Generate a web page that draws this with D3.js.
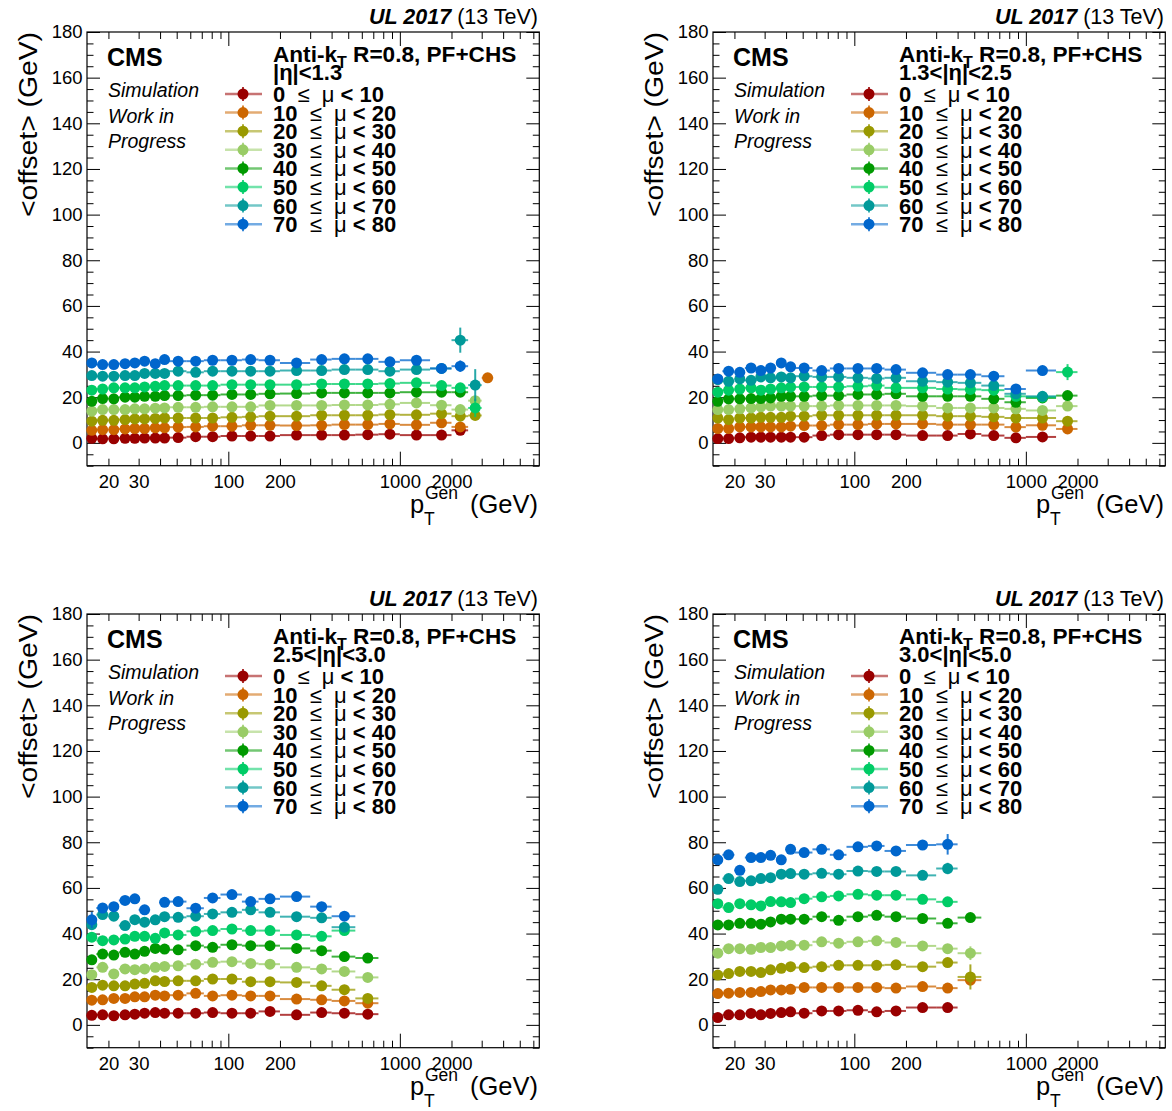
<!DOCTYPE html>
<html>
<head>
<meta charset="utf-8">
<script src="https://cdn.jsdelivr.net/npm/d3@7"></script>
<style>
  body { margin: 0; background: #fff; }
  svg text { font-family: "Liberation Sans", Arial, Helvetica, sans-serif; fill: #000; }
</style>
</head>
<body>
<svg id="chart" width="1172" height="1111"></svg>
<script>
// Generator-level jet pT bin edges (GeV); points sit at bin centres, x errors span the bin
const ptEdges = [15, 17, 20, 23, 27, 30, 35, 40, 45, 57, 72, 90, 120, 150, 200, 300, 400, 550, 750, 1000, 1500, 2000, 2500, 3000, 3500];

// Pileup (mu) intervals
const muLow  = [0, 10, 20, 30, 40, 50, 60, 70];
const muHigh = [10, 20, 30, 40, 50, 60, 70, 80];

// Pseudorapidity region of each panel
const etaLabels = ["|η|<1.3", "1.3<|η|<2.5", "2.5<|η|<3.0", "3.0<|η|<5.0"];

// <offset> (GeV) per pT bin, one row per mu interval (null = no entry)
const offsetEta0to13 = [
  [2.0, 1.8, 1.8, 2.0, 2.0, 2.1, 2.1, 2.1, 2.3, 2.7, 2.7, 3.0, 3.0, 3.0, 3.4, 3.4, 3.4, 3.6, 3.8, 3.4, 3.4, 5.5, null, null],
  [5.5, 5.8, 5.8, 6.1, 6.3, 6.3, 6.6, 6.6, 6.9, 7.0, 7.3, 7.3, 7.7, 7.7, 7.6, 7.7, 8.0, 8.0, 8.3, 7.9, 8.8, 7.0, null, 28.5],
  [9.5, 9.9, 9.9, 10.2, 10.5, 10.5, 10.7, 10.9, 10.9, 10.9, 10.9, 11.2, 11.4, 11.7, 11.7, 12.1, 12.1, 12.1, 12.4, 12.3, 12.8, 11.7, 12.0, null],
  [13.9, 14.6, 14.6, 14.6, 14.9, 14.9, 15.2, 15.3, 15.6, 15.6, 15.8, 15.8, 15.8, 16.4, 16.4, 16.4, 16.6, 16.6, 16.9, 17.5, 16.5, 14.6, 18.5, null],
  [18.2, 19.4, 19.3, 20.0, 20.0, 20.4, 20.4, 20.7, 20.7, 20.9, 20.9, 21.2, 21.2, 21.5, 21.6, 21.9, 21.9, 21.9, 21.9, 22.2, 22.2, 22.2, null, null],
  [23.1, 23.6, 24.1, 24.1, 24.1, 24.5, 24.8, 25.1, 25.1, 25.1, 25.1, 25.5, 25.5, 25.5, 25.5, 25.8, 25.8, 25.8, 26.0, 26.3, 25.1, 24.1, 15.3, null],
  [29.5, 29.2, 29.2, 29.5, 29.5, 30.4, 30.4, 30.4, 31.4, 30.9, 31.4, 31.4, 31.4, 31.4, 31.7, 31.7, 32.1, 32.1, 31.4, 32.1, 32.6, 45.0, 25.3, null],
  [35.0, 34.3, 34.3, 34.7, 35.0, 35.8, 34.7, 36.5, 35.8, 35.8, 36.2, 36.2, 36.5, 36.2, 35.0, 36.5, 36.8, 36.8, 35.5, 36.2, 32.6, 33.6, null, null]
];

const offsetEta13to25 = [
  [1.9, 1.9, 2.2, 2.5, 2.5, 2.5, 2.5, 2.5, 2.5, 3.2, 3.6, 3.6, 3.6, 3.6, 3.2, 3.2, 3.9, 3.2, 2.2, 2.6, null],
  [6.3, 6.3, 7.0, 7.0, 7.0, 7.0, 7.0, 7.3, 7.6, 7.6, 8.0, 8.0, 8.3, 8.3, 8.3, 8.0, 8.0, 8.0, 6.9, 7.7, 6.1],
  [10.9, 10.2, 10.9, 10.9, 11.2, 11.2, 11.2, 11.7, 11.7, 12.1, 12.1, 12.1, 12.1, 12.1, 12.1, 11.7, 11.7, 11.4, 10.9, 10.9, 9.5],
  [14.6, 14.6, 14.9, 15.3, 15.8, 16.1, 16.1, 16.1, 16.1, 16.1, 16.4, 16.4, 16.4, 16.4, 16.1, 15.3, 15.3, 15.3, 14.9, 14.2, 16.1],
  [18.2, 19.3, 19.3, 19.4, 19.4, 19.7, 20.4, 20.4, 20.4, 20.7, 20.7, 21.2, 21.2, 21.5, 20.4, 20.4, 20.4, 19.3, 17.8, 19.7, 20.7],
  [22.2, 23.1, 23.6, 24.1, 23.1, 23.6, 24.1, 24.4, 24.5, 24.5, 24.5, 24.8, 25.1, 24.1, 24.1, 23.6, 23.4, 23.1, 20.4, 20.0, 31.0],
  [27.7, 27.0, 28.0, 27.4, 28.9, 28.5, 28.9, 28.5, 29.2, 28.9, 28.9, 28.5, 28.2, 28.5, 27.0, 26.6, 26.3, 25.1, 21.5, 20.4, null],
  [28.0, 31.4, 30.9, 32.8, 31.7, 32.8, 35.0, 33.3, 32.8, 31.7, 32.6, 32.6, 32.6, 32.1, 30.7, 29.9, 29.9, 29.2, 23.6, 31.7, null]
];

const offsetEta25to30 = [
  [4.2, 4.4, 4.0, 4.4, 4.7, 5.1, 5.4, 5.1, 5.1, 5.1, 5.4, 5.1, 5.1, 5.9, 4.4, 5.4, 5.1, 4.7],
  [10.8, 11.0, 11.6, 11.6, 12.3, 12.3, 13.0, 12.7, 13.0, 13.8, 12.7, 13.0, 12.7, 12.7, 11.3, 11.0, 10.5, 9.5],
  [16.4, 17.4, 17.1, 17.1, 17.9, 18.2, 19.3, 19.0, 19.3, 19.3, 20.1, 20.1, 18.9, 18.9, 18.6, 17.1, 15.4, 11.6],
  [22.0, 25.2, 22.3, 24.5, 24.2, 24.5, 25.2, 25.6, 25.9, 26.6, 27.4, 27.7, 26.9, 26.6, 25.2, 24.5, 23.4, 20.8],
  [28.5, 31.0, 30.6, 31.8, 31.0, 32.2, 33.5, 33.2, 32.9, 34.7, 34.0, 35.1, 34.7, 34.7, 33.5, 32.5, 29.9, 29.3],
  [38.4, 36.9, 37.2, 37.6, 38.8, 38.8, 37.9, 40.3, 39.4, 41.0, 41.3, 42.0, 41.3, 41.3, 39.4, 38.8, 41.3, null],
  [43.9, 48.3, 47.6, 43.5, 46.1, 45.0, 46.0, 47.4, 47.1, 47.6, 48.6, 49.3, 50.4, 49.3, 47.4, 46.9, 42.8, null],
  [46.0, 51.2, 51.8, 54.5, 55.2, 50.4, null, 53.7, 54.0, 51.1, 55.6, 57.1, 54.0, 55.2, 56.2, 51.8, 47.6, null]
];

const offsetEta30to50 = [
  [3.2, 4.4, 4.4, 5.0, 4.4, 5.0, 5.4, 5.7, 5.1, 6.1, 6.1, 6.4, 5.7, 6.1, 7.6, 7.6, null],
  [13.7, 13.9, 14.2, 14.2, 14.6, 15.3, 15.3, 15.6, 16.4, 16.4, 16.4, 16.4, 16.4, 16.1, 16.8, 16.1, 19.6],
  [21.8, 22.5, 23.4, 23.4, 22.9, 24.1, 24.8, 25.5, 25.1, 25.5, 26.1, 26.1, 26.1, 26.3, 25.5, 27.3, 21.0],
  [31.4, 33.4, 33.4, 33.1, 33.9, 33.9, 34.6, 34.9, 34.9, 36.4, 35.8, 36.4, 36.8, 36.1, 34.6, 33.4, 31.4],
  [43.8, 43.8, 44.5, 44.5, 44.1, 45.1, 46.3, 46.3, 46.3, 47.4, 45.8, 47.4, 48.0, 47.4, 46.6, 44.5, 47.0],
  [53.1, 51.4, 53.1, 52.6, 52.1, 54.0, 53.9, 53.6, 55.3, 56.1, 56.5, 57.2, 56.8, 56.8, 55.0, 53.9, null],
  [59.4, 64.1, 62.8, 63.1, 64.1, 64.5, 66.0, 66.3, 66.0, 66.4, 66.0, 67.4, 67.2, 67.2, 65.5, 68.5, null],
  [72.3, 74.5, 67.7, 73.3, 73.3, 74.3, 72.3, 76.9, 75.5, 76.9, 74.5, 78.0, 78.4, 76.2, 78.8, 79.1, null]
];

// Statistical uncertainty (GeV) on points where it is visible: [panel, mu interval, pT bin, error]
const largeErrors = [
  [0, 6, 21, 5.5], [0, 7, 21, 2.5], [0, 6, 22, 7.0], [0, 5, 22, 4.0], [0, 0, 21, 1.5],
  [0, 1, 21, 1.5], [0, 3, 22, 2.0], [0, 2, 22, 1.5],
  [1, 5, 20, 3.5],
  [2, 7, 0, 3.5], [2, 6, 0, 2.0], [2, 5, 0, 1.5], [2, 7, 9, 2.0], [2, 6, 16, 1.5], [2, 2, 17, 2.0],
  [3, 7, 15, 4.5], [3, 6, 15, 2.5], [3, 3, 16, 3.0], [3, 2, 16, 5.5], [3, 1, 16, 2.0]
];
const defaultError = 0.5;

const xTickLabels = [20, 30, 100, 200, 1000, 2000];
const yTickLabels = [0, 20, 40, 60, 80, 100, 120, 140, 160, 180];

const panelData = [offsetEta0to13, offsetEta13to25, offsetEta25to30, offsetEta30to50];
const seriesColors = ["#990000", "#cc6600", "#999900", "#99cc66", "#009900", "#00cc66", "#009999", "#0066cc"];

// ---- layout ----
const panelOrigins = [[0, 0], [626, 0], [0, 582], [626, 582]];
const frame = { left: 87, top: 32, right: 539.3, bottom: 465.7 };

const svg = d3.select("#chart");

const x = d3.scaleLog().domain([15, 6500]).range([frame.left, frame.right]);
const y = d3.scaleLinear().domain([-10, 180]).range([frame.bottom, frame.top]);

// log-axis tick sets
const xMajor = [100, 1000];
const xMinor = [];
[10, 100, 1000].forEach(dec => {
  for (let m = 2; m <= 9; m++) {
    const v = m * dec;
    if (v > 15 && v < 6500) xMinor.push(v);
  }
});
const yMinor = d3.range(-10, 181, 5).filter(v => v % 20 !== 0);

function errorOf(p, s, b) {
  const hit = largeErrors.find(e => e[0] === p && e[1] === s && e[2] === b);
  return hit ? hit[3] : defaultError;
}

panelData.forEach((rows, p) => {
  const [ox, oy] = panelOrigins[p];
  const g = svg.append("g").attr("transform", `translate(${ox},${oy})`);

  // ---- ticks (inward, mirrored on all four sides) ----
  const tickAxis = (gen, tx, ty, vals, size) => {
    const a = g.append("g").attr("transform", `translate(${tx},${ty})`)
      .call(gen.tickValues(vals).tickSize(size).tickFormat(""));
    a.select(".domain").remove();
    a.selectAll("line").attr("stroke", "#000").attr("stroke-width", 1);
  };
  tickAxis(d3.axisBottom(x), 0, frame.bottom, xMinor, -7);
  tickAxis(d3.axisBottom(x), 0, frame.bottom, xMajor, -14);
  tickAxis(d3.axisTop(x), 0, frame.top, xMinor, -7);
  tickAxis(d3.axisTop(x), 0, frame.top, xMajor, -14);
  tickAxis(d3.axisLeft(y), frame.left, 0, yMinor, -6.5);
  tickAxis(d3.axisLeft(y), frame.left, 0, yTickLabels, -13);
  tickAxis(d3.axisRight(y), frame.right, 0, yMinor, -6.5);
  tickAxis(d3.axisRight(y), frame.right, 0, yTickLabels, -13);

  // ---- tick labels ----
  const xl = g.append("g").attr("transform", `translate(0,${frame.bottom})`)
    .call(d3.axisBottom(x).tickValues(xTickLabels).tickSize(0).tickPadding(9).tickFormat(d3.format("d")));
  xl.select(".domain").remove();
  xl.selectAll("text").attr("font-size", 18.5).attr("font-family", "Liberation Sans, Arial, sans-serif");

  const yl = g.append("g").attr("transform", `translate(${frame.left},0)`)
    .call(d3.axisLeft(y).tickValues(yTickLabels).tickSize(0).tickPadding(4.5).tickFormat(d3.format("d")));
  yl.select(".domain").remove();
  yl.selectAll("text").attr("font-size", 18.5).attr("font-family", "Liberation Sans, Arial, sans-serif");

  // ---- frame ----
  g.append("rect")
    .attr("x", frame.left).attr("y", frame.top)
    .attr("width", frame.right - frame.left).attr("height", frame.bottom - frame.top)
    .attr("fill", "none").attr("stroke", "#000").attr("stroke-width", 1.2);

  // ---- data ----
  rows.forEach((vals, s) => {
    const col = seriesColors[s];
    const pts = vals.map((v, b) => ({ v, b })).filter(d => d.v !== null);
    const sg = g.append("g");
    // x error bars span each pT bin
    sg.selectAll("line.xe").data(pts).join("line")
      .attr("x1", d => x(ptEdges[d.b])).attr("x2", d => x(ptEdges[d.b + 1]))
      .attr("y1", d => y(d.v)).attr("y2", d => y(d.v))
      .attr("stroke", col).attr("stroke-opacity", 0.75).attr("stroke-width", 2);
    // y error bars
    sg.selectAll("line.ye").data(pts).join("line")
      .attr("x1", d => x((ptEdges[d.b] + ptEdges[d.b + 1]) / 2))
      .attr("x2", d => x((ptEdges[d.b] + ptEdges[d.b + 1]) / 2))
      .attr("y1", d => y(d.v - errorOf(p, s, d.b))).attr("y2", d => y(d.v + errorOf(p, s, d.b)))
      .attr("stroke", col).attr("stroke-opacity", 0.85).attr("stroke-width", 2);
    sg.selectAll("circle").data(pts).join("circle")
      .attr("cx", d => x((ptEdges[d.b] + ptEdges[d.b + 1]) / 2))
      .attr("cy", d => y(d.v))
      .attr("r", 5.5).attr("fill", col);
  });

  // ---- energy / era label ----
  const t = g.append("text").attr("x", 538).attr("y", 24).attr("text-anchor", "end").attr("font-size", 21.5);
  t.append("tspan").attr("font-weight", "bold").attr("font-style", "italic").text("UL 2017");
  t.append("tspan").text(" (13 TeV)");

  // ---- CMS block ----
  g.append("text").attr("x", 107).attr("y", 66).attr("font-size", 25).attr("font-weight", "bold").text("CMS");
  ["Simulation", "Work in", "Progress"].forEach((s, i) => {
    g.append("text").attr("x", 108).attr("y", 97 + i * 25.5).attr("font-size", 19.5)
      .attr("font-style", "italic").text(s);
  });

  // ---- legend ----
  const hdr = g.append("text").attr("x", 273).attr("y", 62).attr("font-size", 22.6).attr("font-weight", "bold");
  hdr.append("tspan").text("Anti-k");
  hdr.append("tspan").attr("font-size", 16).attr("dy", 6).text("T");
  hdr.append("tspan").attr("dy", -6).text(" R=0.8, PF+CHS");
  g.append("text").attr("x", 273).attr("y", 80).attr("font-size", 22).attr("font-weight", "bold").text(etaLabels[p]);

  muLow.forEach((lo, i) => {
    const cy = 94 + i * 18.6;
    const col = seriesColors[i];
    g.append("line").attr("x1", 225).attr("x2", 262).attr("y1", cy).attr("y2", cy)
      .attr("stroke", col).attr("stroke-opacity", 0.55).attr("stroke-width", 2.5);
    g.append("line").attr("x1", 243).attr("x2", 243).attr("y1", cy - 7).attr("y2", cy + 7)
      .attr("stroke", col).attr("stroke-opacity", 0.8).attr("stroke-width", 2);
    g.append("circle").attr("cx", 243).attr("cy", cy).attr("r", 5.5).attr("fill", col);
    const lt = g.append("text").attr("x", 273).attr("y", cy + 8).attr("font-size", 22)
      .attr("font-weight", "bold").style("white-space", "pre");
    lt.append("tspan").text(`${lo}  `);
    lt.append("tspan").attr("font-weight", "normal").text("≤");
    lt.append("tspan").text("  ");
    lt.append("tspan").attr("font-weight", "normal").text("μ");
    lt.append("tspan").text(` < ${muHigh[i]}`);
  });

  // ---- axis titles ----
  g.append("text").attr("transform", `translate(37,${frame.top}) rotate(-90)`)
    .attr("text-anchor", "end").attr("font-size", 25.5)
    .attr("textLength", 185).attr("lengthAdjust", "spacingAndGlyphs")
    .text("<offset> (GeV)");
  g.append("text").attr("x", 538).attr("y", 513).attr("text-anchor", "end").attr("font-size", 25.5).text("(GeV)");
  g.append("text").attr("x", 410).attr("y", 513).attr("font-size", 25.5).text("p");
  g.append("text").attr("x", 425).attr("y", 499).attr("font-size", 17.5).text("Gen");
  g.append("text").attr("x", 424).attr("y", 525).attr("font-size", 17.5).text("T");
});
</script>
</body>
</html>
